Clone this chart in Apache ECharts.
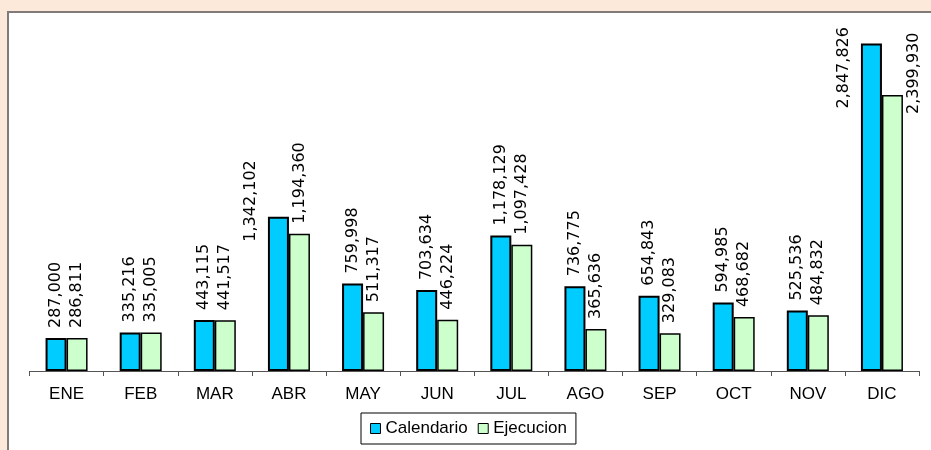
<!DOCTYPE html>
<html>
<head>
<meta charset="utf-8">
<script src="https://cdn.jsdelivr.net/npm/echarts@6/dist/echarts.min.js"></script>
<style>
html,body{margin:0;padding:0;background:#FCE9DA;}
#chart{width:931px;height:450px;}
</style>
</head>
<body>
<div id="chart"></div>
<script>
const categories = ['ENE','FEB','MAR','ABR','MAY','JUN','JUL','AGO','SEP','OCT','NOV','DIC'];
const calendario = [287000,335216,443115,1342102,759998,703634,1178129,736775,654843,594985,525536,2847826];
const ejecucion = [286811,335005,441517,1194360,511317,446224,1097428,365636,329083,468682,484832,2399930];

// label placement overrides (pixels relative to bar top-left), where labels sit beside bars
const calLabelPos = {3: [-17, 25], 11: [-17, 65]};
const ejeLabelPos = {11: [32, 19]};

const fmt = v => String(v).replace(/\B(?=(\d{3})+(?!\d))/g, ',');

const labelBase = {
  show: true,
  position: 'top',
  distance: 10,
  rotate: 90,
  align: 'left',
  verticalAlign: 'middle',
  color: '#000',
  fontFamily: 'DejaVu Sans',
  fontSize: 16,
  formatter: p => fmt(p.value)
};

function buildData(values, overrides) {
  return values.map((v, i) => overrides[i]
    ? {value: v, label: {position: overrides[i], distance: 0}}
    : v);
}

const chart = echarts.init(document.getElementById('chart'), null, {renderer: 'canvas'});
chart.setOption({
  backgroundColor: '#FCE9DA',
  animation: false,
  graphic: [{
    type: 'rect',
    z: -10,
    shape: {x: 8, y: 12, width: 960, height: 460},
    style: {fill: '#ffffff', stroke: '#807B78', lineWidth: 2}
  }],
  grid: {left: 29.5, right: 12, top: 26, bottom: 79},
  xAxis: {
    type: 'category',
    data: categories,
    axisLine: {lineStyle: {color: '#555', width: 1}},
    axisTick: {show: true, length: 5, lineStyle: {color: '#555'}},
    axisLabel: {color: '#000', fontFamily: 'Liberation Sans', fontSize: 17, margin: 15}
  },
  yAxis: {
    type: 'value', min: 0, max: 3000000, show: false,
    splitLine: {show: false}
  },
  legend: {
    left: 361, top: 413,
    padding: [7, 9, 7, 9],
    itemGap: 10,
    itemWidth: 10, itemHeight: 10,
    icon: 'rect',
    borderColor: '#000', borderWidth: 1,
    backgroundColor: '#fff',
    itemStyle: {borderWidth: 1, borderColor: '#000'},
    textStyle: {color: '#000', fontFamily: 'Liberation Sans', fontSize: 17},
    data: ['Calendario', 'Ejecucion']
  },
  series: [{
    name: 'Calendario',
    type: 'bar',
    barWidth: 21,
    barGap: '0%',
    data: buildData(calendario, calLabelPos),
    itemStyle: {color: '#00CCFF', borderColor: '#000', borderWidth: 2},
    label: labelBase
  }, {
    name: 'Ejecucion',
    type: 'bar',
    barWidth: 21,
    barGap: '0%',
    data: buildData(ejecucion, ejeLabelPos),
    itemStyle: {color: '#CCFFCC', borderColor: '#000', borderWidth: 1.5},
    label: labelBase
  }]
});
</script>
</body>
</html>
